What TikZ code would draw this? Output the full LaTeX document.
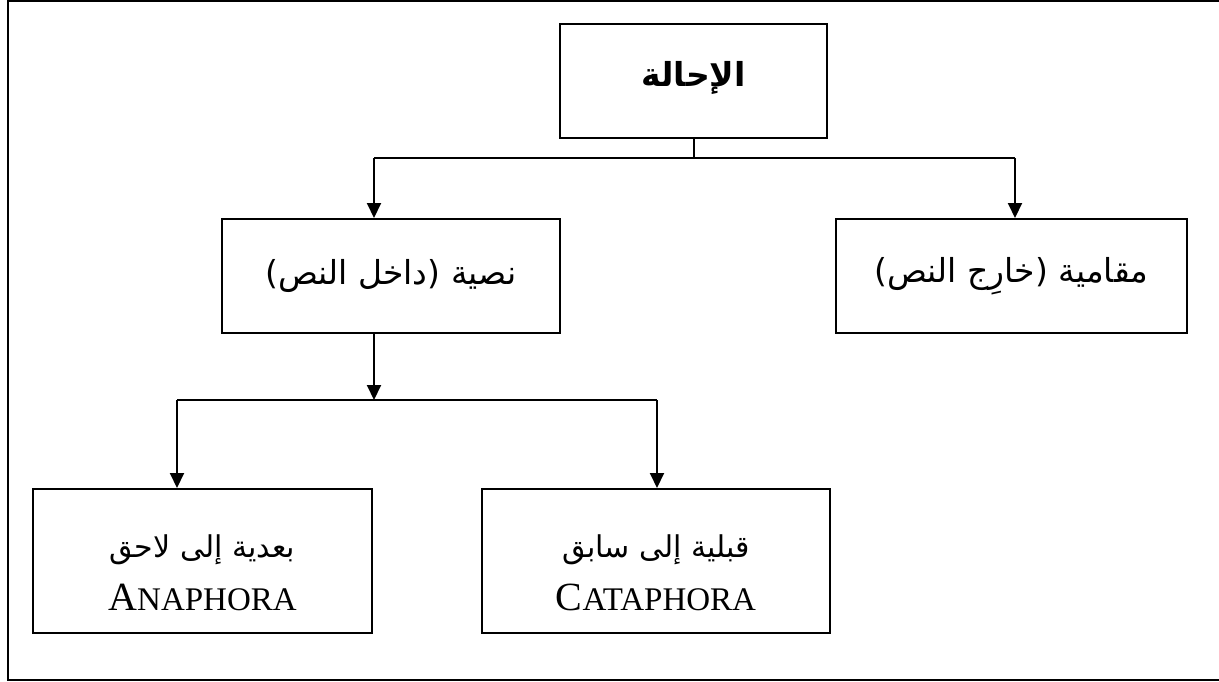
\documentclass[tikz,border=0pt]{standalone}
\usepackage{fontspec}
\usetikzlibrary{arrows.meta, positioning, calc}
\TeXXeTstate=1
\newfontfamily\arabicfont[Script=Arabic]{DejaVu Sans}
\newfontfamily\latinfont{Liberation Serif}
\newcommand{\artext}[1]{{\arabicfont\beginR #1\endR}}
\newcommand{\fakesc}[2]{{\latinfont\fontsize{40}{44}\selectfont #1\fontsize{33}{36}\selectfont #2}}
\definecolor{cLine}{HTML}{000000}
\tikzset{
  catbox/.style={
    draw=cLine, line width=2pt, inner sep=0pt,
    minimum width=#1, minimum height=114pt,
    align=center, font=\fontsize{33}{36}\selectfont,
  },
  leafbox/.style={
    catbox=#1, minimum height=144pt,
    font=\fontsize{30}{53}\selectfont,
  },
  link/.style={draw=cLine, line width=2pt},
  arw/.style={-{Triangle[length=15pt, width=14pt]}, line width=2pt, color=cLine},
}

\begin{document}
\begin{tikzpicture}[x=1pt, y=-1pt]
  \useasboundingbox (0,0) rectangle (1219,681);
  % outer frame
  \draw[link] (8,1) rectangle (1224,680);

  % boxes
  \node[catbox=267pt, font=\fontsize{33}{36}\selectfont\bfseries]
    (ihala) at (693.5,81) {\rule[-14pt]{0pt}{0pt}\artext{الإحالة}};
  \node[catbox=338pt] (nassiya) at (391,276) {\artext{نصية (داخل النص)}};
  \node[catbox=351pt] (maqamiya) at (1011.5,276) {\artext{مقامية (خارِج النص)}};
  \node[leafbox=339pt] (baadiya) at (202.5,561)
    {\rule{0pt}{46pt}\artext{بعدية إلى لاحق}\\ \fakesc{A}{NAPHORA}};
  \node[leafbox=348pt] (qabliya) at (656,561)
    {\rule{0pt}{46pt}\artext{قبلية إلى سابق}\\ \fakesc{C}{ATAPHORA}};

  % branch points
  \coordinate (jL) at (374,158);
  \coordinate (jR) at (1015,158);
  \coordinate (kL) at (177,400);
  \coordinate (kR) at (657,400);

  % first level
  \draw[link] (ihala.south) -- (ihala.south |- jL);
  \draw[link] (jL) -- (jR);
  \draw[arw] (jL) -- (jL |- nassiya.north);
  \draw[arw] (jR) -- (jR |- maqamiya.north);

  % second level
  \draw[arw] (jL |- nassiya.south) -- (jL |- kL);
  \draw[link] (kL) -- (kR);
  \draw[arw] (kL) -- (kL |- baadiya.north);
  \draw[arw] (kR) -- (kR |- qabliya.north);
\end{tikzpicture}
\end{document}
